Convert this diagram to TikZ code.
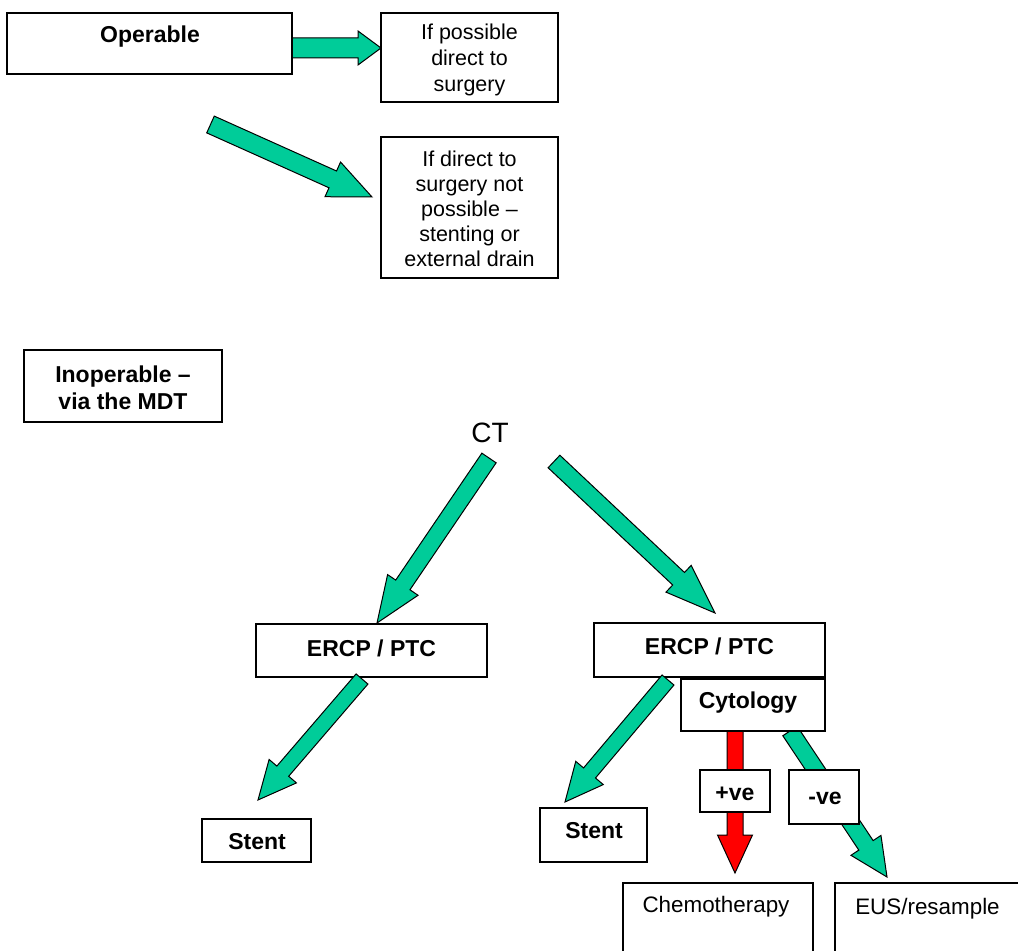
\documentclass[tikz,border=0pt]{standalone}
\usepackage{fontspec}
\setmainfont{Liberation Sans}
\usetikzlibrary{calc,fit}
\definecolor{arrgreen}{RGB}{0,204,153}
\definecolor{arrred}{RGB}{255,0,0}
\tikzset{
  box/.style={draw=black, line width=1pt, fill=white, inner sep=0pt},
  bold/.style={font=\fontsize{11.5}{13.5}\selectfont\bfseries, align=center, inner sep=0pt},
  reg/.style={font=\fontsize{10.75}{12.75}\selectfont, align=center, inner sep=0pt},
  regbig/.style={font=\fontsize{11.2}{13}\selectfont, inner sep=0pt},
  ctfont/.style={font=\fontsize{14}{16}\selectfont, inner sep=0pt},
  arrowline/.style={draw=black, line width=0.5pt, line join=miter},
}
% #1 tail, #2 tip, #3 shaft half width, #4 head half width, #5 head length, #6 colour
\newcommand\fatarrow[6]{%
  \path ($(#2)!#5!(#1)$) coordinate (hb);
  \filldraw[arrowline, fill=#6] ($(#1)!#3!90:(#2)$) -- ($(hb)!#3!90:(#2)$) -- ($(hb)!#4!90:(#2)$) -- (#2) -- ($(hb)!#4!-90:(#2)$) -- ($(hb)!#3!-90:(#2)$) -- ($(#1)!#3!-90:(#2)$) -- cycle;}
\begin{document}
\begin{tikzpicture}[x=0.5pt,y=-0.5pt]
\useasboundingbox (0,0) rectangle (1018,951);
\fill[white] (0,0) rectangle (1018,951);

% arrow end points
\coordinate (a1s) at (292,48);    \coordinate (a1e) at (381,48);
\coordinate (a2s) at (210.5,124.5); \coordinate (a2e) at (372,197);
\coordinate (a3s) at (489,458);   \coordinate (a3e) at (377,623);
\coordinate (a4s) at (554,461.5); \coordinate (a4e) at (715,613);
\coordinate (a5s) at (362,679);   \coordinate (a5e) at (258,800);
\coordinate (a6s) at (668,680);   \coordinate (a6e) at (565,802);
\coordinate (a7s) at (735,731);   \coordinate (a7e) at (735,873);
\coordinate (a8s) at (790,731);   \coordinate (a8e) at (887,877);

% arrows behind boxes
\fatarrow{a1s}{a1e}{5pt}{8.5pt}{11.5pt}{arrgreen}
\fatarrow{a2s}{a2e}{4.6pt}{9.5pt}{21.5pt}{arrgreen}
\fatarrow{a3s}{a3e}{4.3pt}{9.2pt}{23pt}{arrgreen}
\fatarrow{a4s}{a4e}{4.3pt}{9.2pt}{25pt}{arrgreen}
\fatarrow{a7s}{a7e}{4pt}{8.75pt}{19pt}{arrred}
\fatarrow{a8s}{a8e}{4.3pt}{9pt}{19pt}{arrgreen}

% boxes
\node[box, fit={(7,13) (292,74)}] (op) {};
\node[box, fit={(381,13) (558,102)}] (ifp) {};
\node[box, fit={(381,137) (558,278)}] (ifn) {};
\node[box, fit={(24,350) (222,422)}] (inop) {};
\node[box, fit={(256,624) (487,677)}] (ercpL) {};
\node[box, fit={(594,623) (825,677)}] (ercpR) {};
\node[box, fit={(681,679) (825,731)}] (cyto) {};
\node[box, fit={(202,819) (311,862)}] (stentL) {};
\node[box, fit={(540,808) (647,862)}] (stentR) {};
\node[box, fit={(700,770) (770,812)}] (pos) {};
\node[box, fit={(789,770) (859,824)}] (neg) {};
\node[box, fit={(623,883) (813,980)}] (chemo) {};
\node[box, fit={(835,883) (1040,980)}] (eus) {};

% arrows drawn over boxes
\fatarrow{a5s}{a5e}{3.9pt}{9pt}{19pt}{arrgreen}
\fatarrow{a6s}{a6e}{3.9pt}{9pt}{19pt}{arrgreen}

% texts
\node[bold] (tOp) at (150,37) {Operable};
\node[reg, font=\fontsize{10.75}{13}\selectfont] (tIfp) at (469.5,60) {If possible\\direct to\\surgery};
\node[reg, font=\fontsize{10.75}{12.5}\selectfont] (tIfn) at (469.5,209) {If direct to\\surgery not\\possible --\\stenting or\\external drain};
\node[bold] (tInop) at (123,388) {Inoperable --\\via the MDT};
\node[ctfont] (ct) at (490,433) {CT};
\node[bold] (tErL) at (371.5,648) {ERCP / PTC};
\node[bold] (tErR) at (709.5,646) {ERCP / PTC};
\node[bold] (tCy) at (748,703) {Cytology};
\node[bold] (tStL) at (257,842) {Stent};
\node[bold] (tStR) at (594,831) {Stent};
\node[bold] (tPos) at (735,794) {+ve};
\node[bold] (tNeg) at (825,798) {-ve};
\node[regbig] (tCh) at (716,907) {Chemotherapy};
\node[regbig] (tEus) at (927.5,909) {EUS/resample};
\end{tikzpicture}
\end{document}
